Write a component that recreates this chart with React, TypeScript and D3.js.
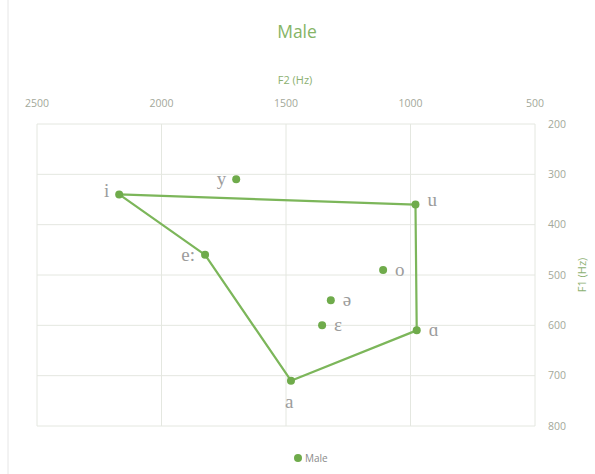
import * as d3 from "d3";

const vowels = ["i", "y", "u", "e:", "o", "ə", "ɛ", "ɑ", "a"];
const f2Values = [2170, 1700, 980, 1825, 1110, 1320, 1355, 975, 1480];
const f1Values = [340, 310, 360, 460, 490, 550, 600, 610, 710];
const labelSide = ["left", "left", "right", "left", "right", "right", "right", "right", "below"];
const hullOrder = ["i", "u", "ɑ", "a", "e:", "i"];
const f2Ticks = [2500, 2000, 1500, 1000, 500];
const f1Ticks = [200, 300, 400, 500, 600, 700, 800];

const W = 595;
const H = 474;
const green = "#7cb65a";
const tickColor = "#a3a89a";
const font = "'Open Sans', 'Noto Sans', sans-serif";

export default function App() {
  const x = d3.scaleLinear().domain([2500, 500]).range([37, 535]);
  const y = d3.scaleLinear().domain([200, 800]).range([124, 426]);

  const pts = vowels.map((v, i) => ({ v, f2: f2Values[i], f1: f1Values[i], side: labelSide[i] }));
  const byName = new Map(pts.map((p) => [p.v, p]));
  const line = d3
    .line<string>()
    .x((v) => x(byName.get(v)!.f2))
    .y((v) => y(byName.get(v)!.f1));

  return (
    <svg width={W} height={H} style={{ position: "absolute", left: 0, top: 0, background: "#fff" }}>
      <line x1={8} x2={8} y1={0} y2={H} stroke="#e6e6e6" />
      {/* grid */}
      {f2Ticks.map((t) => (
        <line key={"gx" + t} x1={x(t)} x2={x(t)} y1={y(200)} y2={y(800)} stroke="#e4e7e0" />
      ))}
      {f1Ticks.map((t) => (
        <line key={"gy" + t} x1={x(2500)} x2={x(500)} y1={y(t)} y2={y(t)} stroke="#e4e7e0" />
      ))}
      {/* axes labels */}
      {f2Ticks.map((t) => (
        <text key={"tx" + t} x={x(t)} y={107} textAnchor="middle" fontSize={10.5} fill={tickColor} fontFamily={font}>
          {t}
        </text>
      ))}
      {f1Ticks.map((t) => (
        <text key={"ty" + t} x={548} y={y(t)} dy="0.35em" fontSize={10.5} fill={tickColor} fontFamily={font}>
          {t}
        </text>
      ))}
      <text x={297} y={38} textAnchor="middle" fontSize={17.5} fill="#86b466" fontFamily={font}>
        Male
      </text>
      <text x={295} y={84} textAnchor="middle" fontSize={11} fill="#8cb071" fontFamily={font}>
        F2 (Hz)
      </text>
      <text
        transform={`translate(586,${y(500)}) rotate(-90)`}
        textAnchor="middle"
        fontSize={11}
        fill="#8cb071"
        fontFamily={font}
      >
        F1 (Hz)
      </text>
      {/* hull */}
      <path d={line(hullOrder) ?? ""} fill="none" stroke={green} strokeWidth={2.2} strokeLinejoin="round" />
      {pts.map((p) => (
        <circle key={p.v} cx={x(p.f2)} cy={y(p.f1)} r={4} fill="#6fab4b" />
      ))}
      {pts.map((p) => {
        const cx = x(p.f2);
        const cy = y(p.f1);
        const dx = p.side === "left" ? -10 : p.side === "right" ? 12 : -6;
        const dyy = p.side === "below" ? 22 : p.v === "u" ? -4 : p.v === "i" ? -3 : 0;
        return (
          <text
            key={"l" + p.v}
            x={cx + dx}
            y={cy + dyy}
            dy="0.3em"
            textAnchor={p.side === "left" ? "end" : "start"}
            fontSize={19}
            fill="#9c9c9c"
            fontFamily="'Liberation Serif', 'DejaVu Serif', serif"
          >
            {p.v}
          </text>
        );
      })}
      {/* legend */}
      <circle cx={298} cy={458} r={4} fill="#6fab4b" />
      <text x={305} y={458} dy="0.35em" fontSize={10} fill="#8a8a8a" fontFamily={font}>
        Male
      </text>
    </svg>
  );
}
